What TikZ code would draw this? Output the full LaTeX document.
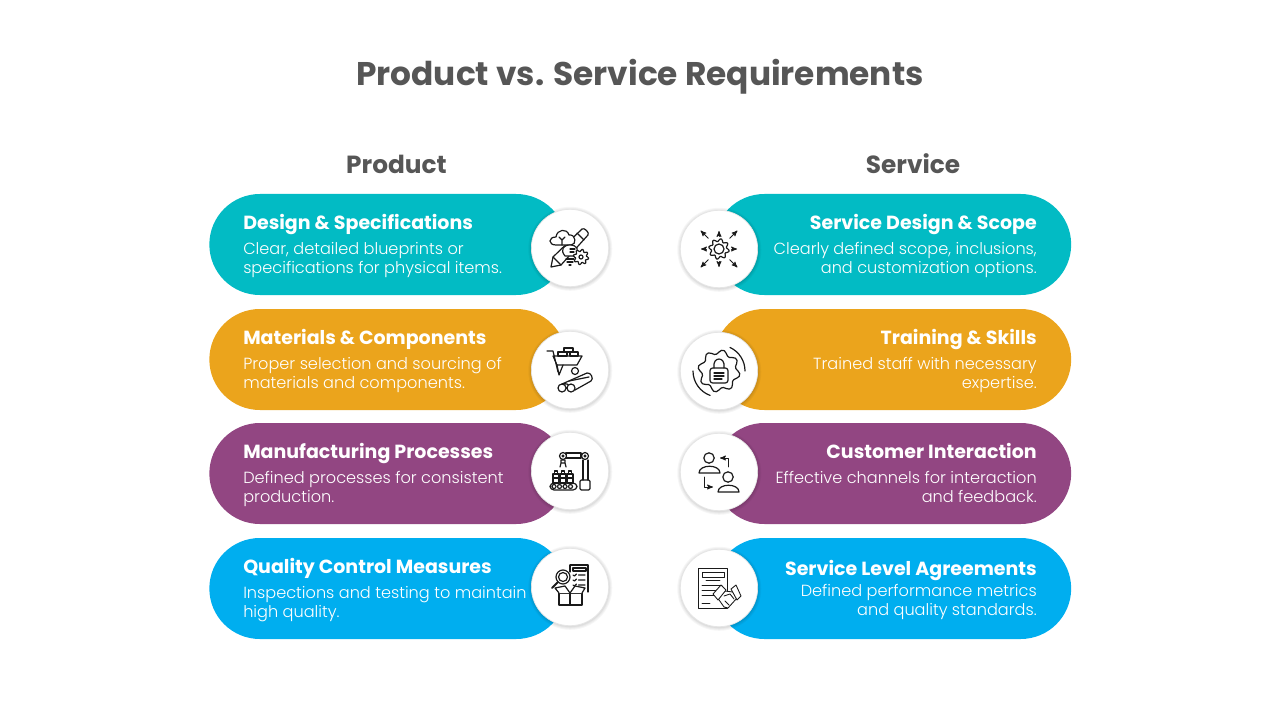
\documentclass[tikz,border=0pt]{standalone}
\usepackage{fontspec}
\setmainfont{Poppins}[UprightFont=* Light, BoldFont=* Bold]
\usetikzlibrary{arrows,shapes.misc}

\definecolor{tealpill}{HTML}{02BBC4}
\definecolor{orangepill}{HTML}{EBA41C}
\definecolor{purplepill}{HTML}{924682}
\definecolor{bluepill}{HTML}{00AEEF}
\definecolor{headgrey}{HTML}{565656}
\definecolor{iconink}{HTML}{1A1A1A}

\tikzset{
    pill/.style={rounded rectangle, minimum width=268pt, minimum height=75.75pt, inner sep=0pt},
    softring/.style={preaction={draw=black, draw opacity=.035, line width=#1, transform canvas={xshift=.2pt, yshift=-.6pt}}},
    disc/.style={circle, fill=white, draw=black!10, line width=.5pt, minimum size=58pt, inner sep=0pt,
        softring=5pt, softring=3.5pt, softring=2pt, softring=1pt},
    heading/.style={text=headgrey, anchor=base, font=\fontsize{18.6}{22}\selectfont\bfseries},
    pilltitle/.style={text=white, inner sep=0pt, font=\fontsize{14.25}{18}\selectfont\bfseries},
    pillbody/.style={text=white, inner sep=0pt, font=\fontsize{12.1}{14.25}\selectfont},
    ink/.style={draw=iconink, line width=.9pt, line cap=round, line join=round},
    thinink/.style={ink, line width=.65pt},
    pics/designicon/.style={code={
        \draw[ink, fill=white] (-19,19) -- (-17,9) -- (12,-19) .. controls (14,-21) and (20,-15) .. (18,-13) -- (-9,17) -- cycle;
        \draw[ink] (-17,9) -- (-9,17) (7,-15) -- (14,-8);
        \draw[ink, fill=white] (-14,-3) .. controls (-22,-3) and (-22,-11) .. (-14,-11) .. controls (-13,-19) and (-3,-20) .. (-1,-13) .. controls (6,-14) and (7,-3) .. (1,-3) -- cycle;
        \draw[ink] (-8,-3) -- (-8,-8) (-8,-8) -- (-11,-11) (-8,-8) -- (-5,-11);
        \draw[ink, fill=white] (-5,8) .. controls (-10,2) and (-7,-3) .. (0,-3) .. controls (7,-3) and (10,2) .. (5,8) -- cycle;
        \draw[ink] (-4,11) -- (4,11) (-3,14) -- (3,14) (-1,17) -- (1,17) (0,1) -- (5,1) (0,4) -- (4,4);
        \begin{scope}[shift={(11,9)}]
            \draw[ink, fill=white] plot[smooth cycle, samples=48, domain=0:352] (\x:{6.6+1.2*sin(8*\x)});
            \draw[ink] (0,0) circle (2);
        \end{scope}
    }},
    pics/carticon/.style={code={
        \draw[ink] (-23,-19) -- (-17,-19) -- (-12,2);
        \draw[ink] (-17,-14) -- (12,-14) -- (7,-5) -- (-13,-5) -- cycle;
        \draw[ink] (-12,-18) rectangle (-3,-14) (0,-18) rectangle (8,-14) (-6,-22) rectangle (3,-18);
        \draw[ink] (-13,-5) -- (-11,5) -- (-7,-5);
        \draw[ink] (5,1) circle (3.5);
        \draw[ink, fill=white] (-8,14) -- (17,3) .. controls (21,2) and (24,9) .. (21,11) -- (5,20) -- (-3,14) -- cycle;
        \draw[ink] (-1,11) -- (19,7);
        \draw[ink, fill=white] (-8,18) circle (4) (1,18) circle (4);
    }},
    pics/roboticon/.style={code={
        \draw[ink] (-4,-18) rectangle (11,-13);
        \draw[ink, fill=white] (-7,-15) circle (3.5) (15,-15) circle (3.5);
        \draw[ink] (-7,-15) circle (1) (15,-15) circle (1);
        \draw[ink] (13,-11) -- (13,9) (18,-11) -- (18,9);
        \draw[ink, rounded corners=1pt] (10,9) rectangle (20,19);
        \draw[ink] (-9,-11) rectangle (-5,-8) (-9,-8) -- (-10,-4) (-5,-8) -- (-4,-4);
        \foreach \xb in {-14,-7,0} {
            \draw[ink] (\xb-1.5,0) rectangle (\xb+1.5,3);
            \draw[ink] (\xb-3,3) rectangle (\xb+3,12);
            \draw[ink] (\xb-3,7) -- (\xb+3,7);
        }
        \draw[ink, rounded corners=3pt] (-20,12) rectangle (7,19);
        \foreach \xb in {-16,-10.5,-5,0.5} \draw[ink] (\xb,15.5) circle (2);
    }},
    pics/qualityicon/.style={code={
        \draw[ink] (0,-22) -- (18,-22) -- (18,5) (0,-22) -- (0,-15);
        \draw[ink] (3,-19) rectangle (16,-16);
        \foreach \yb in {-12,-7,-2} \draw[ink] (3,\yb) -- (4.5,\yb+1) -- (6.5,\yb-1) (8.5,\yb) -- (15,\yb);
        \draw[ink, fill=white] (-7,-10) circle (7);
        \draw[ink] (-7,-10) circle (4.5);
        \draw[ink, line width=1.5pt] (-12,-5) -- (-18,1);
        \draw[ink, fill=white] (-11,6) rectangle (12,18);
        \draw[ink, fill=white] (-11,6) -- (-15,1) -- (-5,-1) -- (0,6) -- (5,-1) -- (15,1) -- (12,6);
        \draw[ink] (0,6) -- (0,18);
    }},
    pics/scopeicon/.style={code={
        \draw[ink] plot[smooth cycle, samples=48, domain=0:352] (\x:{8.9+1.5*sin(8*\x)});
        \draw[ink] (0,0) circle (5);
        \foreach \ang in {0,90,180,270} \draw[thinink, ->, >=stealth'] (\ang:12.5) -- (\ang:18);
        \foreach \ang in {45,135,225,315} \draw[thinink, ->, >=stealth'] (\ang:15) -- (\ang:26);
    }},
    pics/skillicon/.style={code={
        \draw[ink] plot[smooth cycle, samples=48, domain=0:352] (\x:{19+2.2*sin(8*\x)});
        \draw[ink] (110:26) arc[start angle=110, end angle=180, radius=26];
        \draw[ink] (0:26) arc[start angle=0, end angle=-65, radius=26];
        \draw[ink] (-5,-3) .. controls (-7,-15) and (7,-15) .. (5,-3);
        \draw[ink, rounded corners=2pt] (-9,-3) rectangle (9,12);
        \draw[ink] (-5,2) -- (5,2) (-5,5) -- (5,5) (-5,8) -- (3,8);
    }},
    pics/peopleicon/.style={code={
        \draw[ink] (-10,-14) circle (5.2) (9,5) circle (5.2);
        \draw[ink] (-20,1) .. controls (-20,-8) and (1,-8) .. (1,1) -- cycle;
        \draw[ink] (-1,20) .. controls (-1,11) and (20,11) .. (20,20) -- cycle;
        \draw[thinink, ->, >=stealth'] (9,-5) -- (9,-14) -- (1,-14);
        \draw[thinink, ->, >=stealth'] (-15,5) -- (-15,15) -- (-6,15);
    }},
    pics/dealicon/.style={code={
        \draw[thinink] (-21,-20) rectangle (8,20);
        \draw[thinink] (-17,-16) rectangle (5,-11) (-13,-8) -- (1,-8);
        \draw[thinink] (-17,-3) -- (3,-3) (-17,2) -- (-2,2) (-17,7) -- (-5,7) (-17,15) -- (-9,15);
        \draw[thinink, fill=white] (-2,9) -- (6,3) -- (14,4) -- (18,10) -- (9,20) -- (5,19) -- cycle;
        \draw[thinink, fill=white] (-6,6) -- (2,-3) -- (7,2) -- (-1,12) -- cycle;
        \draw[thinink, fill=white] (12,1) -- (17,-3) -- (22,8) -- (18,12) -- cycle;
        \draw[thinink] (5,8) -- (11,6) -- (15,11) (6,13) -- (10,17);
    }},
}

\begin{document}
\begin{tikzpicture}[x=.75pt, y=-.75pt]
    \useasboundingbox (0,0) rectangle (1280,720);

    % Headings
    \node [text=headgrey, anchor=base, font=\fontsize{24.6}{30}\selectfont\bfseries] (title) at (640,85.5) {Product vs. Service Requirements};
    \node [heading] (prod) at (396.5,173.5) {Product};
    \node [heading] (serv) at (913,173.5) {Service};

    % Pills
    \node [pill, fill=tealpill]   (p1) at (388,244.5) {};
    \node [pill, fill=orangepill] (p2) at (388,359.5) {};
    \node [pill, fill=purplepill] (p3) at (388,473.5) {};
    \node [pill, fill=bluepill]   (p4) at (388,588.5) {};
    \node [pill, fill=tealpill]   (s1) at (892.5,244.5) {};
    \node [pill, fill=orangepill] (s2) at (892.5,359.5) {};
    \node [pill, fill=purplepill] (s3) at (892.5,473.5) {};
    \node [pill, fill=bluepill]   (s4) at (892.5,588.5) {};

    % Discs
    \node [disc] (dp1) at (570,248) {};
    \node [disc] (dp2) at (570,370) {};
    \node [disc] (dp3) at (570,471) {};
    \node [disc] (dp4) at (570,587) {};
    \node [disc] (ds1) at (719,249) {};
    \node [disc] (ds2) at (719,371) {};
    \node [disc] (ds3) at (719,472) {};
    \node [disc] (ds4) at (719,588) {};

    % Icons
    \path (dp1.center) pic {designicon};
    \path (dp2.center) pic {carticon};
    \path (dp3.center) pic {roboticon};
    \path (dp4.center) pic {qualityicon};
    \path (ds1.center) pic {scopeicon};
    \path (ds2.center) pic {skillicon};
    \path (ds3.center) pic {peopleicon};
    \path (ds4.center) pic {dealicon};

    % Left column text
    \node [pilltitle, anchor=base west] (tp1) at (243,229.5) {Design \& Specifications};
    \node [pillbody, anchor=base west, align=left] (bp1) at (243,273) {Clear, detailed blueprints or\\specifications for physical items.};
    \node [pilltitle, anchor=base west] (tp2) at (243,344.5) {Materials \& Components};
    \node [pillbody, anchor=base west, align=left] (bp2) at (243,388) {Proper selection and sourcing of\\materials and components.};
    \node [pilltitle, anchor=base west] (tp3) at (243,458.5) {Manufacturing Processes};
    \node [pillbody, anchor=base west, align=left] (bp3) at (243,502) {Defined processes for consistent\\production.};
    \node [pilltitle, anchor=base west] (tp4) at (243,573.5) {Quality Control Measures};
    \node [pillbody, anchor=base west, align=left] (bp4) at (243,617) {Inspections and testing to maintain\\high quality.};

    % Right column text
    \node [pilltitle, anchor=base east] (ts1) at (1037,229.5) {Service Design \& Scope};
    \node [pillbody, anchor=base east, align=right] (bs1) at (1037,273) {Clearly defined scope, inclusions,\\and customization options.};
    \node [pilltitle, anchor=base east] (ts2) at (1037,344.5) {Training \& Skills};
    \node [pillbody, anchor=base east, align=right] (bs2) at (1037,388) {Trained staff with necessary\\expertise.};
    \node [pilltitle, anchor=base east] (ts3) at (1037,458.5) {Customer Interaction};
    \node [pillbody, anchor=base east, align=right] (bs3) at (1037,502) {Effective channels for interaction\\and feedback.};
    \node [pilltitle, anchor=base east] (ts4) at (1037,575.5) {Service Level Agreements};
    \node [pillbody, anchor=base east, align=right] (bs4) at (1037,615) {Defined performance metrics\\and quality standards.};

\end{tikzpicture}
\end{document}
